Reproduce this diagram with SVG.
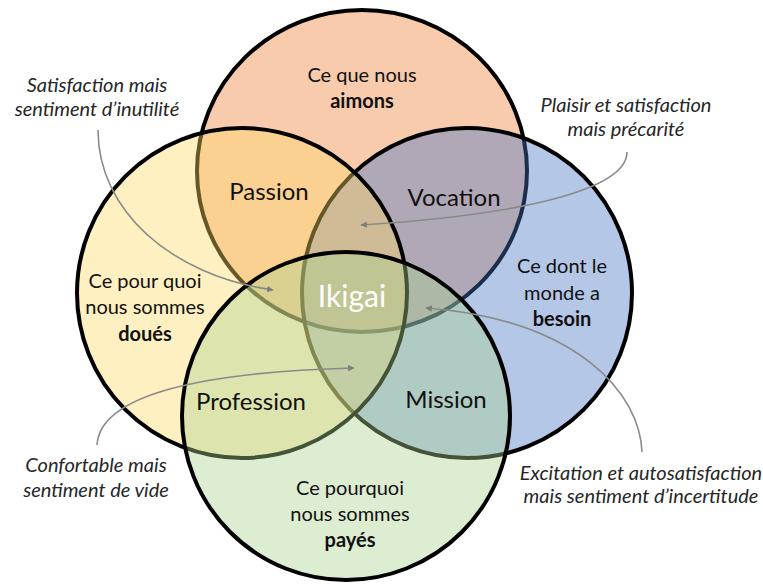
<svg xmlns="http://www.w3.org/2000/svg" width="763" height="584" viewBox="0 0 763 584">
  <style>
    .c { stroke: #000; stroke-width: 4; fill-opacity: 0.4; }
    .t { font-family: Lato, "Liberation Sans", sans-serif; fill: #111; text-anchor: middle; }
    .d { font-size: 20px; }
    .b { font-weight: bold; }
    .r { font-size: 24px; }
    .ik { font-size: 30px; fill: #fff; }
    .n { font-family: Lato, "Liberation Sans", sans-serif; font-style: italic; font-size: 20px; fill: #262626; text-anchor: middle; }
    .cn { fill: none; stroke: #8a8a8a; stroke-width: 1.6; marker-end: url(#ah); }
  </style>
  <defs>
    <marker id="ah" viewBox="0 0 10 10" refX="9" refY="5" markerWidth="6.5" markerHeight="6.5" markerUnits="userSpaceOnUse" orient="auto">
      <path d="M0,0 L10,5 L0,10 z" fill="#7f7f7f"/>
    </marker>
  </defs>

  <g id="circle-aimons"><ellipse class="c" cx="362" cy="171" rx="165" ry="161" fill="#ED7D31"/></g>
  <g id="circle-besoin"><circle class="c" cx="467" cy="293" r="165" fill="#4472C4"/></g>
  <g id="circle-doues"><circle class="c" cx="242" cy="293" r="165" fill="#FFD966"/></g>
  <g id="circle-payes"><circle class="c" cx="346" cy="416" r="164" fill="#A9D18E"/></g>

  <g id="label-aimons" class="t d">
    <text x="362" y="82">Ce que nous</text>
    <text x="362" y="108" class="b">aimons</text>
  </g>
  <g id="label-doues" class="t d">
    <text x="145" y="288">Ce pour quoi</text>
    <text x="145" y="314">nous sommes</text>
    <text x="145" y="341" class="b">doués</text>
  </g>
  <g id="label-besoin" class="t d">
    <text x="562" y="273">Ce dont le</text>
    <text x="562" y="300">monde a</text>
    <text x="562" y="326" class="b">besoin</text>
  </g>
  <g id="label-payes" class="t d">
    <text x="350" y="495">Ce pourquoi</text>
    <text x="350" y="521">nous sommes</text>
    <text x="350" y="547" class="b">payés</text>
  </g>
  <g id="label-passion"><text class="t r" x="269" y="200">Passion</text></g>
  <g id="label-vocation"><text class="t r" x="454" y="206">Vocation</text></g>
  <g id="label-profession"><text class="t r" x="251" y="410">Profession</text></g>
  <g id="label-mission"><text class="t r" x="446" y="408">Mission</text></g>
  <g id="label-ikigai"><text class="t ik" x="352" y="307">Ikigai</text></g>

  <g id="note-inutilite" class="n">
    <text x="97" y="92">Satisfaction mais</text>
    <text x="97" y="116">sentiment d’inutilité</text>
  </g>
  <g id="note-precarite" class="n">
    <text x="626" y="112">Plaisir et satisfaction</text>
    <text x="626" y="136">mais précarité</text>
  </g>
  <g id="note-vide" class="n">
    <text x="96" y="472">Confortable mais</text>
    <text x="96" y="497">sentiment de vide</text>
  </g>
  <g id="note-incertitude" class="n">
    <text x="641" y="480">Excitation et autosatisfaction</text>
    <text x="641" y="503">mais sentiment d’incertitude</text>
  </g>

  <g id="connectors">
    <path class="cn" d="M98,130 C98,210 170,275 273,290"/>
    <path class="cn" d="M627,152 C627,190 520,215 361,225"/>
    <path class="cn" d="M97,445 C100,395 200,372 354,368"/>
    <path class="cn" d="M642,452 C640,395 580,320 426,308"/>
  </g>
</svg>
